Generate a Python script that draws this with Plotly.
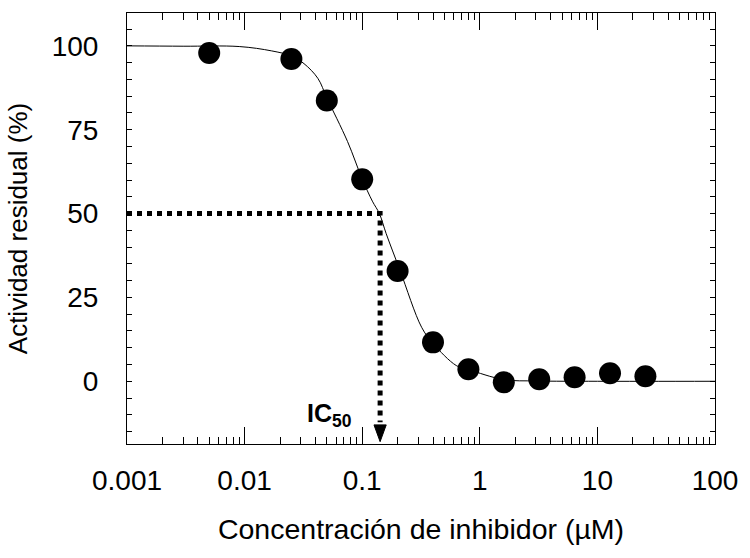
import numpy as np
import plotly.graph_objects as go

# measured data
conc = [0.005, 0.025, 0.05, 0.1, 0.2, 0.4, 0.8, 1.6, 3.2, 6.4, 12.8, 25.6]
activity = [97.9, 96.1, 83.7, 60.2, 32.9, 11.6, 3.6, -0.3, 0.6, 1.2, 2.4, 1.5]

# fitted curve
curve_x = [0.001, 0.003, 0.009, 0.017, 0.025, 0.032, 0.042, 0.05, 0.075, 0.1,
           0.122, 0.14, 0.16, 0.21, 0.32, 0.4, 0.63, 0.8, 1.6, 3.0, 10, 100]
curve_y = [100, 99.9, 99.8, 98.5, 97.0, 94.7, 90.3, 84.5, 71.5, 60.3,
           53.7, 50, 44, 33, 16.1, 11.3, 4.7, 3.5, 0.5, 0.1, 0, 0]

ic50 = 0.142
half_level = 50
arrow_top = -13
arrow_tip = -18

x_tickvals = [0.001, 0.01, 0.1, 1, 10, 100]
x_ticktext = ["0.001", "0.01", "0.1", "1", "10", "100"]
y_tickvals = [0, 25, 50, 75, 100]

FONT = "Arial, Liberation Sans, sans-serif"

fig = go.Figure()

# dotted guide lines
fig.add_trace(go.Scatter(
    x=[0.001, ic50, ic50], y=[half_level, half_level, arrow_top + 0.8],
    mode="lines", line=dict(color="black", width=5, dash="5px,5px"),
    hoverinfo="skip", showlegend=False))

# arrow head
hw = 10 ** 0.052
fig.add_trace(go.Scatter(
    x=[ic50 / hw, ic50 * hw, ic50, ic50 / hw],
    y=[arrow_top, arrow_top, arrow_tip, arrow_top],
    mode="lines", fill="toself", fillcolor="black",
    line=dict(color="black", width=1), hoverinfo="skip", showlegend=False))

# curve
fig.add_trace(go.Scatter(
    x=curve_x, y=curve_y, mode="lines", line=dict(color="black", width=1, shape="spline"),
    showlegend=False))

# data points
fig.add_trace(go.Scatter(
    x=conc, y=activity, mode="markers",
    marker=dict(color="black", size=22, line=dict(width=0)),
    showlegend=False))

fig.add_annotation(
    x=np.log10(ic50) - 0.22, y=-10, xref="x", yref="y",
    text="<b>IC<sub>50</sub></b>", showarrow=False,
    xanchor="right", yanchor="middle",
    font=dict(family=FONT, size=25, color="black"))

fig.update_xaxes(
    type="log", range=[-3, 2],
    tickvals=x_tickvals, ticktext=x_ticktext,
    ticks="inside", ticklen=17, tickwidth=1, tickcolor="black",
    minor=dict(ticks="inside", ticklen=7, tickwidth=1, tickcolor="black", dtick="D1"),
    showline=True, linecolor="black", linewidth=1, mirror="ticks",
    showgrid=False, zeroline=False,
    ticklabelstandoff=11,
    tickfont=dict(family=FONT, size=28, color="black"),
    title=dict(text="Concentración de inhibidor (µM)", standoff=24,
               font=dict(family=FONT, size=28.5, color="black")))

fig.update_yaxes(
    range=[-18.7, 109.8],
    tickvals=y_tickvals,
    ticks="inside", ticklen=5, tickwidth=1, tickcolor="black",
    minor=dict(ticks="inside", ticklen=5, tickwidth=1, tickcolor="black", dtick=5),
    showline=True, linecolor="black", linewidth=1, mirror="ticks",
    showgrid=False, zeroline=False,
    ticklabelstandoff=22,
    tickfont=dict(family=FONT, size=28, color="black"),
    title=dict(text="Actividad residual (%)", standoff=16,
               font=dict(family=FONT, size=26, color="black")))

fig.update_layout(
    width=750, height=558,
    margin=dict(l=127, r=29, t=12, b=114),
    paper_bgcolor="white", plot_bgcolor="white",
    font=dict(family=FONT, color="black"),
)

fig.write_html("out.html")
